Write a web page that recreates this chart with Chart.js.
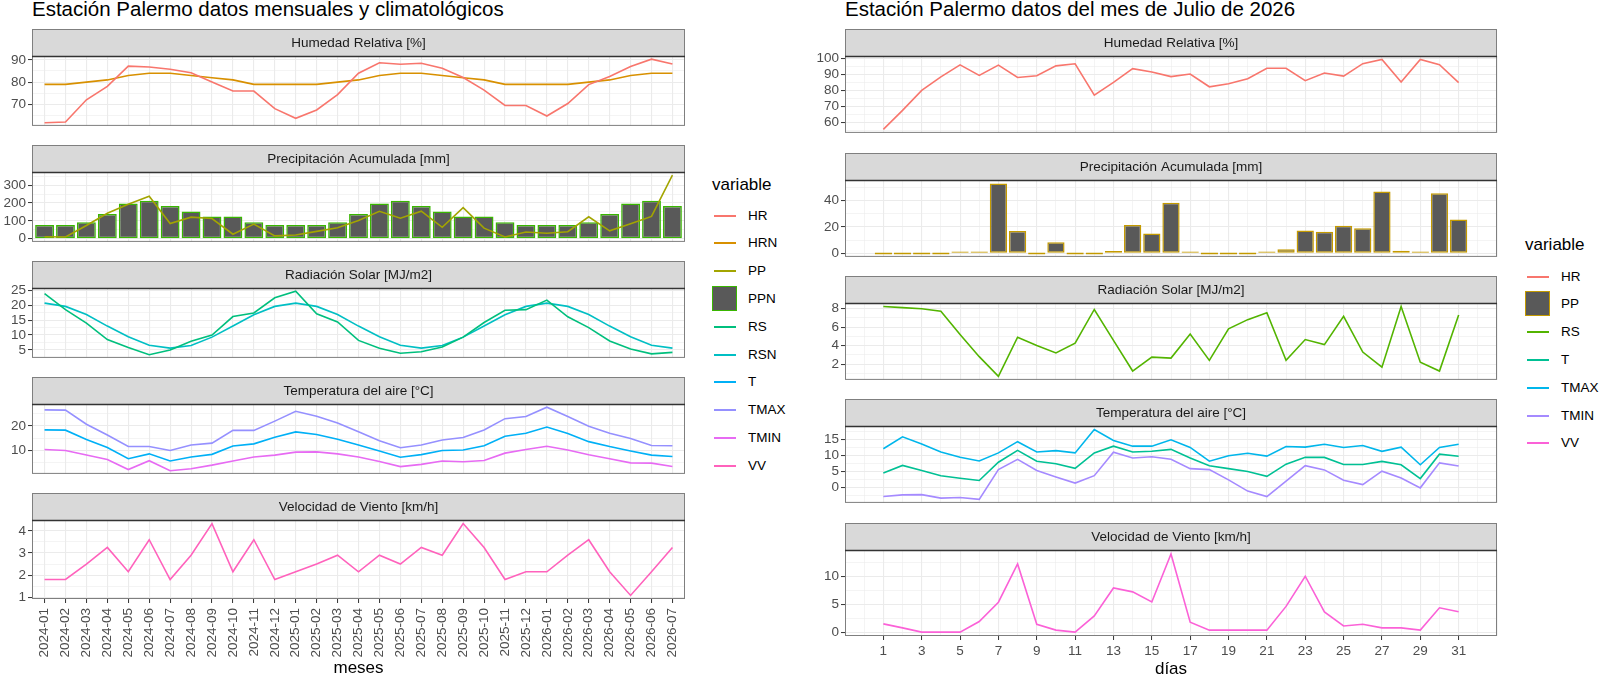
<!DOCTYPE html>
<html>
<head>
<meta charset="utf-8">
<script src="https://cdn.jsdelivr.net/npm/chart.js@4.4.1/dist/chart.umd.min.js"></script>
<style>
  body { margin: 0; background: #fff; width: 1600px; height: 676px; position: relative; overflow: hidden;
         font-family: "Liberation Sans", Arial, sans-serif; }
  canvas { position: absolute; }
  .titulo { position: absolute; top: -1px; font-size: 20.5px; line-height: 20.5px; color: #000; white-space: nowrap; }
  .ley-titulo { position: absolute; font-size: 17px; line-height: 20px; color: #000; }
  .ley-item { position: absolute; font-size: 13.5px; line-height: 16px; color: #000; }
  .ley-linea { position: absolute; height: 2px; width: 22px; }
  .ley-caja { position: absolute; width: 23px; height: 23px; background: #595959; }
</style>
</head>
<body>
<div class="titulo" style="left:32px">Estación Palermo datos mensuales y climatológicos</div>
<div class="titulo" style="left:845px">Estación Palermo datos del mes de Julio de 2026</div>

<script>
// ---- datos mensuales ----
const meses = ['2024-01','2024-02','2024-03','2024-04','2024-05','2024-06','2024-07','2024-08','2024-09','2024-10','2024-11','2024-12',
               '2025-01','2025-02','2025-03','2025-04','2025-05','2025-06','2025-07','2025-08','2025-09','2025-10','2025-11','2025-12',
               '2026-01','2026-02','2026-03','2026-04','2026-05','2026-06','2026-07'];
const hr   = [61.8, 62.1, 72.1, 78.1, 87.2, 86.8, 85.8, 84.2, 80.1, 76.0, 76.0, 68.1, 63.8, 67.5, 74.4, 84.0,
              88.7, 88.0, 88.5, 86.2, 82.1, 76.4, 69.6, 69.5, 64.8, 70.4, 78.9, 82.5, 87.0, 90.3, 88.1];
const hrn  = [79, 79, 80, 81, 83, 84, 84, 83, 82, 81, 79, 79, 79, 79, 80, 81, 83, 84, 84, 83, 82, 81, 79, 79,
              79, 79, 80, 81, 83, 84, 84];
const pp   = [11, 10, 74, 143, 193, 238, 85, 121, 113, 25, 82, 16, 21, 41, 61, 102, 154, 115, 154, 64, 174, 59,
              10, 38, 31, 39, 123, 44, 84, 125, 356];
const ppn  = [77, 77, 92, 138, 198, 213, 184, 152, 125, 125, 92, 77, 77, 77, 92, 138, 198, 213, 184, 152, 125, 125,
              92, 77, 77, 77, 92, 138, 198, 213, 184];
const rs   = [23.9, 18.5, 14.0, 8.5, 5.8, 3.4, 5.0, 7.9, 10.0, 16.2, 17.4, 22.5, 24.7, 17.1, 14.4, 8.2, 5.6, 3.9,
              4.4, 6.0, 9.3, 14.2, 18.3, 18.5, 21.7, 16.1, 12.5, 8.0, 5.3, 3.7, 4.2];
const rsn  = [20.7, 19.6, 16.9, 13.0, 9.4, 6.6, 5.6, 6.5, 9.3, 13.0, 16.8, 19.6, 20.7, 19.6, 16.9, 13.0, 9.4, 6.6,
              5.6, 6.5, 9.3, 13.0, 16.8, 19.6, 20.7, 19.6, 16.9, 13.0, 9.4, 6.6, 5.6];
const temp = [18.4, 18.3, 14.5, 11.2, 6.6, 8.6, 5.7, 7.3, 8.4, 11.8, 12.7, 15.4, 17.6, 16.5, 14.6, 12.2, 9.8, 7.2,
              8.3, 10.0, 10.2, 11.9, 15.8, 17.0, 19.6, 16.9, 13.6, 11.6, 9.8, 8.1, 7.5];
const tmax = [26.6, 26.5, 20.7, 16.3, 11.6, 11.6, 10.0, 12.2, 13.0, 18.2, 18.2, 22.0, 26.0, 24.0, 21.2, 17.6, 14.0,
              11.1, 12.2, 14.3, 15.3, 18.4, 23.0, 23.9, 27.7, 23.9, 19.9, 17.0, 14.9, 12.0, 11.9];
const tmin = [10.4, 10.0, 8.1, 6.3, 2.2, 5.8, 1.7, 2.5, 4.0, 5.7, 7.3, 8.1, 9.3, 9.4, 8.6, 7.3, 5.5, 3.4, 4.3, 5.7,
              5.4, 5.9, 8.9, 10.4, 11.7, 10.2, 8.2, 6.6, 4.9, 4.8, 3.4];
const vv   = [1.8, 1.8, 2.5, 3.25, 2.15, 3.6, 1.8, 2.9, 4.33, 2.15, 3.6, 1.8, 2.15, 2.5, 2.9, 2.15, 2.9, 2.5, 3.25,
              2.9, 4.33, 3.25, 1.8, 2.15, 2.15, 2.9, 3.6, 2.15, 1.08, 2.15, 3.25];

// ---- datos diarios, julio 2026 ----
const dias = [1,2,3,4,5,6,7,8,9,10,11,12,13,14,15,16,17,18,19,20,21,22,23,24,25,26,27,28,29,30,31];
const hrDia   = [55.6, 67.5, 80, 88.5, 96, 89.4, 95.9, 88.1, 89.2, 95.4, 96.7, 77.1, 85.1, 93.7, 91.6, 88.7, 90.3,
                 82.3, 84.2, 87.4, 93.9, 93.9, 86.1, 90.9, 89, 96.8, 99.4, 85.3, 99.4, 96.2, 84.9];
const ppDia   = [0, 0, 0, 0, 0.2, 1.3, 52.9, 17, 0, 8.5, 0, 0, 1.8, 21.4, 15, 38.4, 1.3, 0, 0, 0, 0.3, 3.1, 17.4,
                 16.3, 21, 19, 46.9, 2, 0.5, 45.6, 25.6];
const rsDia   = [8.22, 8.1, 7.97, 7.7, 5.2, 2.8, 0.67, 4.9, 4.0, 3.2, 4.25, 7.9, 4.56, 1.25, 2.75, 2.65, 5.25, 2.4,
                 5.8, 6.8, 7.55, 2.4, 4.65, 4.1, 7.15, 3.3, 1.66, 8.22, 2.2, 1.25, 7.3];
const tDia    = [4.45, 6.8, 5.2, 3.6, 2.8, 2.1, 7.8, 11.5, 8.1, 7.3, 5.9, 10.7, 12.8, 11.0, 11.2, 11.8, 9.1, 6.7,
                 5.8, 4.9, 3.4, 7.2, 9.35, 9.3, 7.1, 7.1, 8.05, 7.0, 2.7, 10.3, 9.65];
const tmaxDia = [12.0, 15.7, 13.5, 11.0, 9.35, 8.2, 10.7, 14.2, 11.0, 11.4, 10.7, 18.0, 14.6, 12.8, 12.8, 14.8,
                 12.4, 8.1, 9.8, 10.6, 9.7, 12.7, 12.5, 13.4, 12.4, 13.0, 11.2, 12.5, 7.0, 12.4, 13.4];
const tminDia = [-2.9, -2.4, -2.3, -3.4, -3.2, -3.8, 5.5, 8.7, 5.2, 3.2, 1.3, 3.6, 10.9, 9.1, 9.5, 8.7, 5.8, 5.5,
                 2.3, -1.2, -2.9, 1.9, 6.7, 5.4, 2.2, 0.8, 5.0, 2.9, -0.2, 7.6, 6.6];
const vvDia   = [1.47, 0.75, 0, 0, 0, 1.9, 5.35, 12.2, 1.4, 0.35, 0, 2.9, 7.9, 7.2, 5.4, 14.0, 1.76, 0.35, 0.35,
                 0.35, 0.35, 4.6, 10.0, 3.6, 1.1, 1.4, 0.75, 0.75, 0.35, 4.35, 3.65];

// colores (paleta hue de ggplot)
const colMes = { HR: '#F8766D', HRN: '#D89000', PP: '#A3A500', PPN: '#39B600', RS: '#00BF7D', RSN: '#00BFC4',
                 T: '#00B0F6', TMAX: '#9590FF', TMIN: '#E76BF3', VV: '#FF62BC' };
const colDia = { HR: '#F8766D', PP: '#C49A00', RS: '#53B400', T: '#00C094', TMAX: '#00B6EB', TMIN: '#A58AFF',
                 VV: '#FB61D7' };

Chart.defaults.font.family = '"Liberation Sans", Arial, sans-serif';
const ALTO_TIRA = 27;
const GRIS_GRILLA = '#EBEBEB';

function esMultiplo(v, paso) {
  const r = v / paso;
  return Math.abs(r - Math.round(r)) < 1e-6;
}

// rango con la expansion del 5% que usa ggplot
function rango(series, conCero) {
  let vals = [].concat(...series);
  if (conCero) vals.push(0);
  const lo = Math.min(...vals), hi = Math.max(...vals);
  const ex = (hi - lo) * 0.05;
  return [lo - ex, hi + ex];
}

function linea(xs, ys, color) {
  return { type: 'line', data: xs.map((x, i) => ({ x: x, y: ys[i] })), borderColor: color, borderWidth: 1.6,
           pointRadius: 0, fill: false, tension: 0, order: 1 };
}

function barras(xs, ys, borde) {
  return { type: 'bar', data: xs.map((x, i) => ({ x: x, y: ys[i] })), backgroundColor: '#595959',
           borderColor: borde, borderWidth: 1.5, borderSkipped: false, categoryPercentage: 1,
           barPercentage: 0.9, minBarLength: 2, order: 2 };
}

// tira gris con el titulo de la faceta y borde del panel
const tira = {
  id: 'tira',
  afterDraw(chart, args, opts) {
    const { ctx, chartArea: a } = chart;
    const w = a.right - a.left;
    ctx.save();
    ctx.fillStyle = '#D9D9D9';
    ctx.fillRect(a.left, a.top - ALTO_TIRA, w, ALTO_TIRA);
    ctx.lineWidth = 1;
    ctx.strokeStyle = '#7F7F7F';
    ctx.strokeRect(a.left + 0.5, a.top - ALTO_TIRA + 0.5, w - 1, ALTO_TIRA);
    ctx.strokeRect(a.left + 0.5, a.top + 0.5, w - 1, a.bottom - a.top - 1);
    ctx.strokeStyle = '#333333';
    ctx.lineWidth = 1.5;
    ctx.beginPath();
    ctx.moveTo(a.left, a.top + 0.5);
    ctx.lineTo(a.right, a.top + 0.5);
    ctx.stroke();
    ctx.fillStyle = '#1A1A1A';
    ctx.font = '13.5px "Liberation Sans", Arial, sans-serif';
    ctx.textAlign = 'center';
    ctx.textBaseline = 'middle';
    ctx.fillText(opts.texto, (a.left + a.right) / 2, a.top - ALTO_TIRA / 2 + 1);
    ctx.restore();
  }
};

function faceta(cfg) {
  const canvas = document.createElement('canvas');
  canvas.width = cfg.ancho;
  canvas.height = cfg.alto;
  canvas.style.left = cfg.left + 'px';
  canvas.style.top = cfg.top + 'px';
  document.body.appendChild(canvas);

  const [ymin, ymax] = rango(cfg.series, cfg.conCero);
  const abajo = !!cfg.tituloX;
  const ex = cfg.ejeX;

  return new Chart(canvas, {
    type: 'line',
    data: { datasets: cfg.datasets },
    options: {
      responsive: false,
      animation: false,
      events: [],
      layout: { padding: { top: ALTO_TIRA, left: 0, right: 10, bottom: abajo ? 0 : 1 } },
      plugins: { legend: { display: false }, tooltip: { enabled: false }, tira: { texto: cfg.titulo } },
      scales: {
        x: {
          type: 'linear', min: ex.min, max: ex.max, offset: false,
          afterFit: s => { s.height = abajo ? ex.altoEje : 0; },
          border: { display: false },
          grid: {
            offset: false, color: GRIS_GRILLA, drawTicks: abajo, tickLength: 4, tickWidth: 1,
            lineWidth: c => ex.mayor(c.tick.value) ? 1.1 : 0.55,
            tickColor: c => ex.mayor(c.tick.value) ? '#333333' : 'rgba(0,0,0,0)'
          },
          ticks: {
            display: abajo, stepSize: 1, includeBounds: false, autoSkip: false,
            minRotation: ex.rot, maxRotation: ex.rot, padding: ex.pad,
            color: '#4D4D4D', font: { size: 13.5 },
            callback: v => ex.etiqueta(v)
          },
          title: { display: abajo, text: cfg.tituloX || '', color: '#000', font: { size: 17 },
                   padding: { top: 0, bottom: 0 } }
        },
        y: {
          min: ymin, max: ymax,
          afterFit: s => { s.width = cfg.anchoY; },
          border: { display: false },
          grid: {
            color: GRIS_GRILLA, tickLength: 4, tickWidth: 1,
            lineWidth: c => esMultiplo(c.tick.value, cfg.mayor) ? 1.1 : 0.55,
            tickColor: c => esMultiplo(c.tick.value, cfg.mayor) ? '#333333' : 'rgba(0,0,0,0)'
          },
          ticks: {
            stepSize: cfg.paso, includeBounds: false, autoSkip: false, padding: 2,
            color: '#4D4D4D', font: { size: 13.5 },
            callback: v => esMultiplo(v, cfg.mayor) ? String(Math.round(v)) : ''
          }
        }
      }
    },
    plugins: [tira]
  });
}

// ---- columna izquierda: datos mensuales ----
const idx = meses.map((m, i) => i);
const ejeMes = {
  min: -0.6, max: meses.length - 0.4, rot: 90, pad: 5, altoEje: 80,
  mayor: v => true,
  etiqueta: v => { const i = Math.round(v); return Math.abs(v - i) < 1e-6 && meses[i] ? meses[i] : ''; }
};
const topsMes = [29, 145, 261, 377, 493];
const altoPanelMes = 79;
const baseMes = { left: 0, ancho: 695, anchoY: 32, ejeX: ejeMes };

const facetasMes = [
  { titulo: 'Humedad Relativa [%]', series: [hr, hrn], paso: 5, mayor: 10,
    datasets: [linea(idx, hr, colMes.HR), linea(idx, hrn, colMes.HRN)] },
  { titulo: 'Precipitación Acumulada [mm]', series: [pp, ppn], conCero: true, paso: 50, mayor: 100,
    datasets: [linea(idx, pp, colMes.PP), barras(idx, ppn, colMes.PPN)] },
  { titulo: 'Radiación Solar [MJ/m2]', series: [rs, rsn], paso: 2.5, mayor: 5,
    datasets: [linea(idx, rs, colMes.RS), linea(idx, rsn, colMes.RSN)] },
  { titulo: 'Temperatura del aire [°C]', series: [temp, tmax, tmin], paso: 5, mayor: 10,
    datasets: [linea(idx, temp, colMes.T), linea(idx, tmax, colMes.TMAX), linea(idx, tmin, colMes.TMIN)] },
  { titulo: 'Velocidad de Viento [km/h]', series: [vv], paso: 0.5, mayor: 1, tituloX: 'meses',
    datasets: [linea(idx, vv, colMes.VV)] }
];
facetasMes.forEach((f, i) => {
  const ultimo = i === facetasMes.length - 1;
  faceta(Object.assign({}, baseMes, f, {
    top: topsMes[i],
    alto: ALTO_TIRA + altoPanelMes + (ultimo ? ejeMes.altoEje : 1)
  }));
});

// ---- columna derecha: datos diarios ----
const ejeDia = {
  min: -1, max: 33, rot: 0, pad: 3, altoEje: 44,
  mayor: v => v >= 1 && v <= 31 && Math.round(v) % 2 === 1,
  etiqueta: v => (v >= 1 && v <= 31 && Math.round(v) % 2 === 1) ? String(v) : ''
};
const topsDia = [29, 153, 276, 399, 523];
const altoPanelDia = 86;
const baseDia = { left: 800, ancho: 707, anchoY: 45, ejeX: ejeDia };

const facetasDia = [
  { titulo: 'Humedad Relativa [%]', series: [hrDia], paso: 5, mayor: 10,
    datasets: [linea(dias, hrDia, colDia.HR)] },
  { titulo: 'Precipitación Acumulada [mm]', series: [ppDia], conCero: true, paso: 10, mayor: 20,
    datasets: [barras(dias, ppDia, colDia.PP)] },
  { titulo: 'Radiación Solar [MJ/m2]', series: [rsDia], paso: 1, mayor: 2,
    datasets: [linea(dias, rsDia, colDia.RS)] },
  { titulo: 'Temperatura del aire [°C]', series: [tDia, tmaxDia, tminDia], paso: 2.5, mayor: 5,
    datasets: [linea(dias, tDia, colDia.T), linea(dias, tmaxDia, colDia.TMAX), linea(dias, tminDia, colDia.TMIN)] },
  { titulo: 'Velocidad de Viento [km/h]', series: [vvDia], paso: 2.5, mayor: 5, tituloX: 'días',
    datasets: [linea(dias, vvDia, colDia.VV)] }
];
facetasDia.forEach((f, i) => {
  const ultimo = i === facetasDia.length - 1;
  faceta(Object.assign({}, baseDia, f, {
    top: topsDia[i],
    alto: ALTO_TIRA + altoPanelDia + (ultimo ? ejeDia.altoEje : 1)
  }));
});

// ---- leyendas ----
function leyenda(x, yTitulo, yPrimero, entradas, colores, borde) {
  const t = document.createElement('div');
  t.className = 'ley-titulo';
  t.textContent = 'variable';
  t.style.left = x + 'px';
  t.style.top = (yTitulo - 10) + 'px';
  document.body.appendChild(t);
  entradas.forEach((nombre, i) => {
    const yc = Math.round(yPrimero + i * 27.8);
    let key;
    if (nombre === borde) {
      key = document.createElement('div');
      key.className = 'ley-caja';
      key.style.border = '1.5px solid ' + colores[nombre];
      key.style.left = x + 'px';
      key.style.top = (yc - 13) + 'px';
    } else {
      key = document.createElement('div');
      key.className = 'ley-linea';
      key.style.background = colores[nombre];
      key.style.left = (x + 2) + 'px';
      key.style.top = (yc - 1) + 'px';
    }
    document.body.appendChild(key);
    const lab = document.createElement('div');
    lab.className = 'ley-item';
    lab.textContent = nombre;
    lab.style.left = (x + 36) + 'px';
    lab.style.top = (yc - 8) + 'px';
    document.body.appendChild(lab);
  });
}
leyenda(712, 185, 215.5, ['HR', 'HRN', 'PP', 'PPN', 'RS', 'RSN', 'T', 'TMAX', 'TMIN', 'VV'], colMes, 'PPN');
leyenda(1525, 245, 276.5, ['HR', 'PP', 'RS', 'T', 'TMAX', 'TMIN', 'VV'], colDia, 'PP');
</script>
</body>
</html>
